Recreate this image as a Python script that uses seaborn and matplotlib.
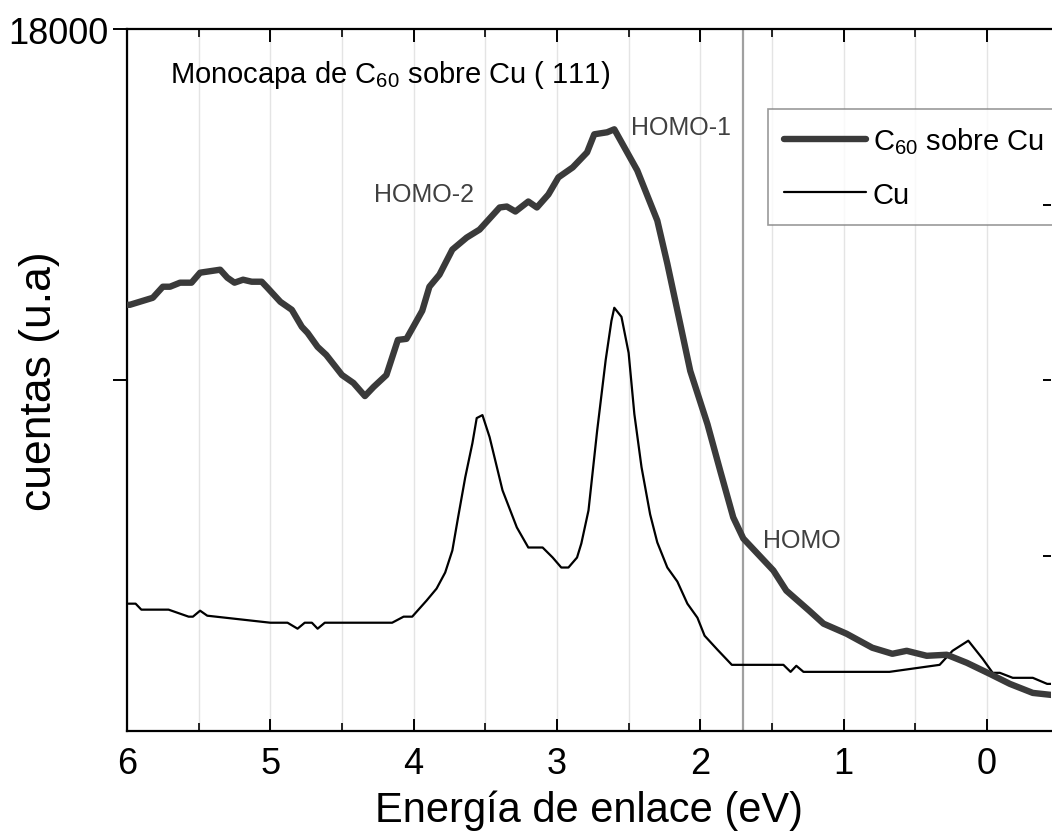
import numpy as np
import pandas as pd
import matplotlib
matplotlib.use("Agg")
import matplotlib.pyplot as plt
from matplotlib.ticker import FixedLocator, MultipleLocator, NullFormatter, FixedFormatter
from matplotlib.lines import Line2D
import seaborn as sns

# ---- data (binding energy in eV, counts) ----
c60_energy = [6.00, 5.98, 5.82, 5.75, 5.70, 5.63, 5.55, 5.49, 5.35, 5.30, 5.25, 5.19, 5.13, 5.06,
              5.02, 4.93, 4.85, 4.78, 4.74, 4.67, 4.61, 4.50, 4.42, 4.34, 4.28, 4.19, 4.11, 4.05,
              3.94, 3.89, 3.82, 3.73, 3.63, 3.54, 3.40, 3.35, 3.29, 3.20, 3.14, 3.06, 2.99, 2.89,
              2.79, 2.74, 2.65, 2.60, 2.44, 2.30, 2.23, 2.14, 2.07, 1.95, 1.86, 1.77, 1.70, 1.49,
              1.40, 1.24, 1.14, 0.98, 0.80, 0.66, 0.56, 0.42, 0.28, 0.14, -0.02, -0.16, -0.32, -0.45]
c60_counts = [14857, 14857, 14937, 15063, 15063, 15109, 15109, 15223, 15257, 15166, 15109, 15143,
              15120, 15120, 15051, 14891, 14800, 14606, 14537, 14377, 14286, 14057, 13966, 13817,
              13920, 14057, 14457, 14469, 14789, 15063, 15200, 15486, 15623, 15714, 15966, 15977,
              15920, 16034, 15966, 16114, 16309, 16423, 16594, 16800, 16823, 16857, 16389, 15817,
              15326, 14640, 14103, 13497, 12960, 12434, 12194, 11829, 11600, 11371, 11223, 11109,
              10949, 10880, 10914, 10857, 10869, 10777, 10651, 10537, 10434, 10411]

cu_energy = [5.99, 5.94, 5.90, 5.71, 5.57, 5.54, 5.49, 5.44, 5.00, 4.88, 4.81, 4.76, 4.71, 4.67,
             4.62, 4.15, 4.07, 4.01, 3.91, 3.84, 3.78, 3.73, 3.69, 3.64, 3.59, 3.56, 3.52, 3.47,
             3.38, 3.28, 3.20, 3.10, 3.03, 2.97, 2.92, 2.86, 2.83, 2.78, 2.72, 2.66, 2.62, 2.60,
             2.55, 2.50, 2.46, 2.41, 2.35, 2.30, 2.23, 2.16, 2.09, 2.02, 1.97, 1.88, 1.78, 1.42,
             1.37, 1.33, 1.28, 0.68, 0.33, 0.24, 0.13, 0.03, -0.04, -0.09, -0.18, -0.32, -0.42, -0.45]
cu_counts = [11451, 11451, 11383, 11383, 11303, 11303, 11371, 11314, 11234, 11234, 11166, 11234,
             11234, 11166, 11234, 11234, 11303, 11303, 11486, 11623, 11806, 12057, 12434, 12891,
             13280, 13566, 13600, 13349, 12743, 12320, 12091, 12091, 11977, 11863, 11863, 11977,
             12137, 12514, 13417, 14229, 14674, 14823, 14720, 14309, 13611, 13006, 12469, 12149,
             11863, 11703, 11451, 11291, 11086, 10926, 10754, 10754, 10674, 10743, 10674, 10674,
             10754, 10914, 11029, 10823, 10663, 10663, 10606, 10606, 10537, 10537]

x_ticks = [6, 5, 4, 3, 2, 1, 0]
homo_labels = ["HOMO-2", "HOMO-1", "HOMO"]
homo_label_pos = [(4.28, 16114), (2.48, 16880), (1.56, 12171)]
homo_line_energy = 1.70

series_names = ["C$_{60}$ sobre Cu", "Cu"]

sns.set_style("white")
plt.rcParams['font.family'] = ['Liberation Sans', 'DejaVu Sans']
plt.rcParams['mathtext.default'] = 'regular'
plt.rcParams['text.color'] = 'black'
plt.rcParams['axes.labelcolor'] = 'black'
plt.rcParams['xtick.color'] = 'black'
plt.rcParams['ytick.color'] = 'black'

fig = plt.figure(figsize=(10.52, 8.37), dpi=100)
ax = fig.add_axes([127/1052, 1 - 732/837, 924/1052, 702/837])

df_c60 = pd.DataFrame({"E": c60_energy, "I": c60_counts})
df_cu = pd.DataFrame({"E": cu_energy, "I": cu_counts})

# grid lines every 0.5 eV
for g in np.arange(-0.0, 6.01, 0.5):
    ax.axvline(g, color="#e4e4e4", lw=1.0, zorder=0)
ax.axvline(homo_line_energy, color="#a0a0a0", lw=1.6, zorder=1)

sns.lineplot(data=df_cu, x="E", y="I", ax=ax, sort=False, estimator=None,
             color="black", lw=1.6, zorder=3)
sns.lineplot(data=df_c60, x="E", y="I", ax=ax, sort=False, estimator=None,
             color="#3a3a3a", lw=4.6, zorder=4, solid_capstyle="round", solid_joinstyle="round")

ax.set_xlim(6, -0.447)
ax.set_ylim(10000, 18000)

# spines
for s in ["left", "bottom", "top"]:
    ax.spines[s].set_color("black")
    ax.spines[s].set_linewidth(1.6)
ax.spines["right"].set_visible(False)

# x ticks
ax.xaxis.set_major_locator(FixedLocator(x_ticks))
ax.xaxis.set_minor_locator(MultipleLocator(0.5))
ax.set_xticklabels([str(t) for t in x_ticks])
ax.tick_params(axis="x", which="major", direction="in", length=9, width=1.4,
               top=True, bottom=True, labelsize=26, pad=11, colors="black")
ax.tick_params(axis="x", which="minor", direction="in", length=6, width=1.2,
               top=True, bottom=True, colors="black")

# y ticks (left)
ax.yaxis.set_major_locator(FixedLocator([14000, 18000]))
ax.yaxis.set_major_formatter(FixedFormatter(["", "18000"]))
ax.tick_params(axis="y", which="major", direction="out", length=10, width=1.4,
               left=True, right=False, labelsize=26, pad=3, colors="black")

# right-side inward ticks
ax2 = ax.twinx()
ax2.set_ylim(ax.get_ylim())
ax2.yaxis.set_major_locator(FixedLocator([12000, 14000, 16000]))
ax2.yaxis.set_major_formatter(NullFormatter())
ax2.tick_params(axis="y", direction="in", length=6, width=1.4, right=True, colors="black")
for s in ax2.spines.values():
    s.set_visible(False)

ax.set_xlabel("Energía de enlace (eV)", fontsize=30, labelpad=6, color="black")
ax.set_ylabel("cuentas (u.a)", fontsize=32, color="black")
ax.yaxis.set_label_coords(-0.072, 0.5)

ax.text(0.046, 0.936, "Monocapa de C$_{60}$ sobre Cu ( 111)", transform=ax.transAxes,
        fontsize=21, va="center", ha="left", color="black")

for lab, (xe, yc) in zip(homo_labels, homo_label_pos):
    ax.text(xe, yc, lab, fontsize=18, color="#404040", ha="left", va="center")

handles = [Line2D([], [], color="#3a3a3a", lw=4.6, solid_capstyle="round"),
           Line2D([], [], color="black", lw=1.6)]
leg = ax.legend(handles, series_names, loc="upper left",
                bbox_to_anchor=(768/1052, 1 - 110/837), bbox_transform=fig.transFigure,
                fontsize=21, frameon=True, fancybox=False, edgecolor="#808080",
                handlelength=2.8, handletextpad=0.25, borderpad=0.55, labelspacing=0.85,
                borderaxespad=0)
leg.get_frame().set_linewidth(1.2)
for t in leg.get_texts():
    t.set_color("black")
leg.set_zorder(10)

fig.savefig("out.png", dpi=100, facecolor="white")
